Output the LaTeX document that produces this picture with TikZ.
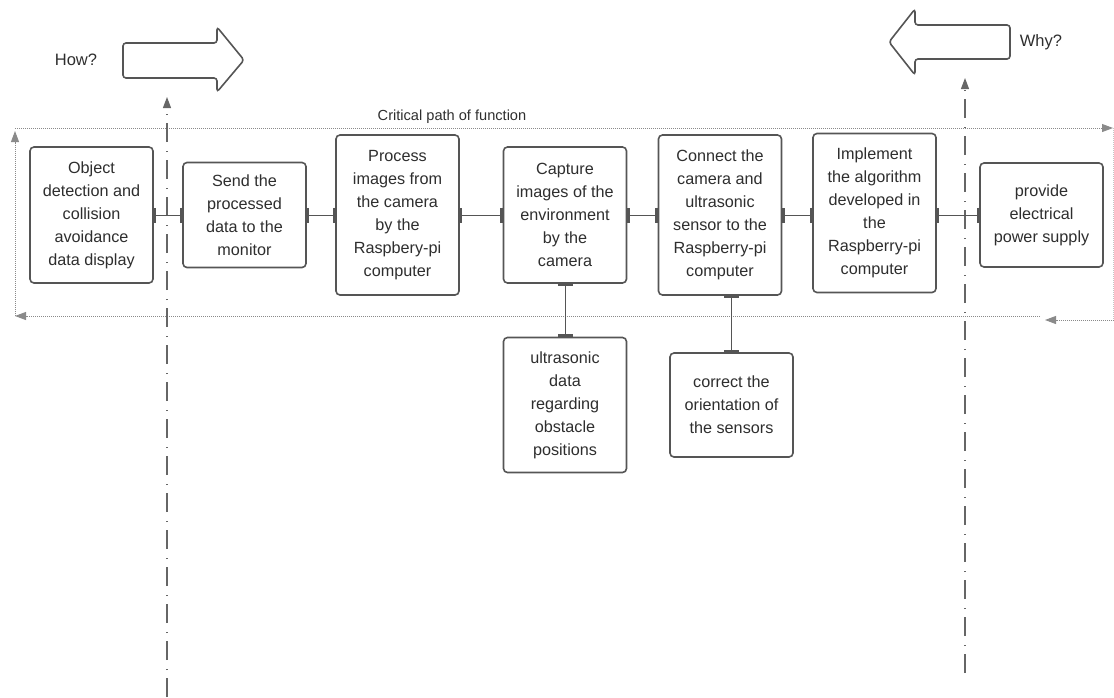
\documentclass[tikz,border=0pt]{standalone}
\usepackage{fontspec}
\setmainfont{Liberation Sans}
\usetikzlibrary{arrows.meta,calc}

\definecolor{linegray}{HTML}{555555}
\definecolor{textgray}{HTML}{2E2E2E}
\definecolor{dotgray}{HTML}{8A8A8A}
\definecolor{axisgray}{HTML}{666666}

\begin{document}
\begin{tikzpicture}[x=1pt,y=-1pt]
  \def\BOXW{123}
  \def\YROW{215}
  \def\YLOW{405}
  \def\YTOP{128}
  \def\YBOT{316}
  \def\XLEFT{15}
  \def\XRIGHT{1113}
  \def\XHOW{167}
  \def\XWHY{965}

  \tikzset{
      box/.style={draw=linegray, line width=1.6pt, rounded corners=4pt,
        fill=white, minimum width=\BOXW pt, inner sep=0pt, align=center,
        text=textgray, font=\fontsize{16.2}{23}\selectfont},
      link/.style={draw=linegray, line width=1pt,
        arrows={Bar[width=15pt,line width=2.5pt]-Bar[width=15pt,line width=2.5pt]}},
      axis/.style={draw=axisgray, line width=1.1pt,
        dash pattern=on 19pt off 8pt on 1.5pt off 8.5pt,
        -{Triangle[length=11pt,width=8pt]}},
      frame/.style={draw=dotgray, line width=0.9pt, dash pattern=on 1pt off 1pt},
      tip/.style={-{Triangle[length=11pt,width=8pt]}},
      bigarrow/.style={draw=linegray, line width=1.6pt, rounded corners=3pt},
      label/.style={text=textgray, font=\fontsize{16.5}{19}\selectfont},
  }

  \useasboundingbox (0,0) rectangle (1114,697);

  % how / why arrows
  \draw [bigarrow] (123,43) -- (217,43) -- (217,27) -- (244,60)
    -- (217,92) -- (217,78) -- (123,78) -- cycle;
  \draw [bigarrow] (1010,25) -- (915,25) -- (915,9) -- (889,42)
    -- (915,75) -- (915,59) -- (1010,59) -- cycle;
  \node [label] (how) at (76,60) {How?};
  \node [label] (why) at (1041,42) {Why?};
  \node [label, font=\fontsize{14.6}{17}\selectfont] (title) at (452,117)
    {Critical path of function};

  % dotted frame
  \coordinate (TL) at (\XLEFT,\YTOP);
  \coordinate (TR) at (\XRIGHT,\YTOP);
  \coordinate (BL) at (\XLEFT,\YBOT);
  \coordinate (BM) at (1040,\YBOT);
  \coordinate (BR) at (1114,{\YBOT+4});
  \coordinate (BRE) at (1045,{\YBOT+4});
  \draw [frame,tip] (TL) -- (TR);
  \draw [frame,tip] (BL) -- ($(TL)+(0,3)$);
  \draw [frame,tip] (BM) -- (BL);
  \draw [frame,tip] (BR) -- (BRE);
  \draw [frame,draw=dotgray!50] (TR) -- (\XRIGHT,{\YBOT+4});

  % how / why axes
  \coordinate (H0) at (\XHOW,697);
  \coordinate (H1) at (\XHOW,97);
  \coordinate (W0) at (\XWHY,673);
  \coordinate (W1) at (\XWHY,78);
  \draw [axis] (H0) -- (H1);
  \draw [axis] (W0) -- (W1);

  % function boxes
  \node [box, minimum height=136pt] (obj) at (91.5,\YROW)
    {Object\\detection and\\collision\\avoidance\\data display};
  \node [box, minimum height=105pt] (send) at (244.5,\YROW)
    {Send the\\processed\\data to the\\monitor};
  \node [box, minimum height=160pt] (proc) at (397.5,\YROW)
    {Process\\images from\\the camera\\by the\\Raspbery-pi\\computer};
  \node [box, minimum height=136pt] (capt) at (565,\YROW)
    {Capture\\images of the\\environment\\by the\\camera};
  \node [box, minimum height=160pt] (conn) at (720,\YROW)
    {Connect the\\camera and\\ultrasonic\\sensor to the\\Raspberry-pi\\computer};
  \node [box, minimum height=159pt] (impl) at (874.5,213)
    {Implement\\the algorithm\\developed in\\the\\Raspberry-pi\\computer};
  \node [box, minimum height=104pt] (powr) at (1041.5,\YROW)
    {provide\\electrical\\power supply};
  \node [box, minimum height=135pt] (ultr) at (565,\YLOW)
    {ultrasonic\\data\\regarding\\obstacle\\positions};
  \node [box, minimum height=104pt] (corr) at (731.5,\YLOW)
    {correct the\\orientation of\\the sensors};

  % links
  \draw [link] (obj) -- (send);
  \draw [link] (send) -- (proc);
  \draw [link] (proc) -- (capt);
  \draw [link] (capt) -- (conn);
  \draw [link] (conn.east) -- (conn.east -| impl.west);
  \draw [link] (impl.east |- powr.west) -- (powr.west);
  \draw [link] (capt) -- (ultr);
  \draw [link] (corr.north |- conn.south) -- (corr.north);
\end{tikzpicture}
\end{document}
